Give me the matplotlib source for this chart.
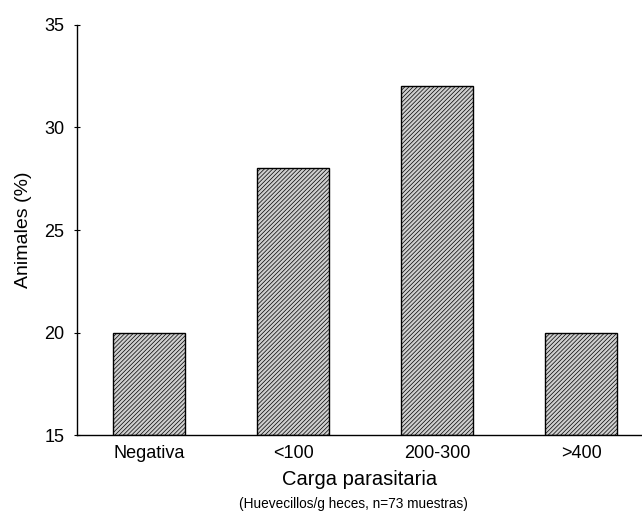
import matplotlib
matplotlib.use("Agg")
import matplotlib.pyplot as plt

plt.rcParams["font.family"] = ["Liberation Sans", "DejaVu Sans"]
plt.rcParams["hatch.linewidth"] = 0.5
plt.rcParams["hatch.color"] = "#a4a4a4"

# Data
categories = ["Negativa", "<100", "200-300", ">400"]
values = [20, 28, 32, 20]
y_ticks = [15, 20, 25, 30, 35]

fig = plt.figure(figsize=(6.42, 5.11), dpi=100)
ax = fig.add_axes([0.12, 0.1487, 0.88, 0.8024])

x = list(range(len(categories)))
ax.bar(x, [v - 15 for v in values], bottom=15, width=0.5,
       color="#cfcfcf", edgecolor="black", linewidth=1.0, hatch="////////")

ax.set_xlim(-0.5, 3.42)
ax.set_ylim(15, 35)
ax.set_yticks(y_ticks)
ax.set_xticks(x)
ax.set_xticklabels(categories)

ax.spines["top"].set_visible(False)
ax.spines["right"].set_visible(False)
ax.spines["left"].set_linewidth(1.0)
ax.spines["bottom"].set_linewidth(1.0)
ax.tick_params(axis="y", direction="inout", length=4, width=0.8, labelsize=13, pad=7)
ax.tick_params(axis="x", length=0, labelsize=13, pad=7)

ax.set_ylabel("Animales (%)", fontsize=14, labelpad=9)
ax.set_xlabel("Carga parasitaria", fontsize=14.5, labelpad=6)
fig.text(0.12 + 0.88 * (1.92 / 3.92), 0.0137, "(Huevecillos/g heces, n=73 muestras)",
         ha="center", va="center", fontsize=9.8)

fig.savefig("out.png", dpi=100)
